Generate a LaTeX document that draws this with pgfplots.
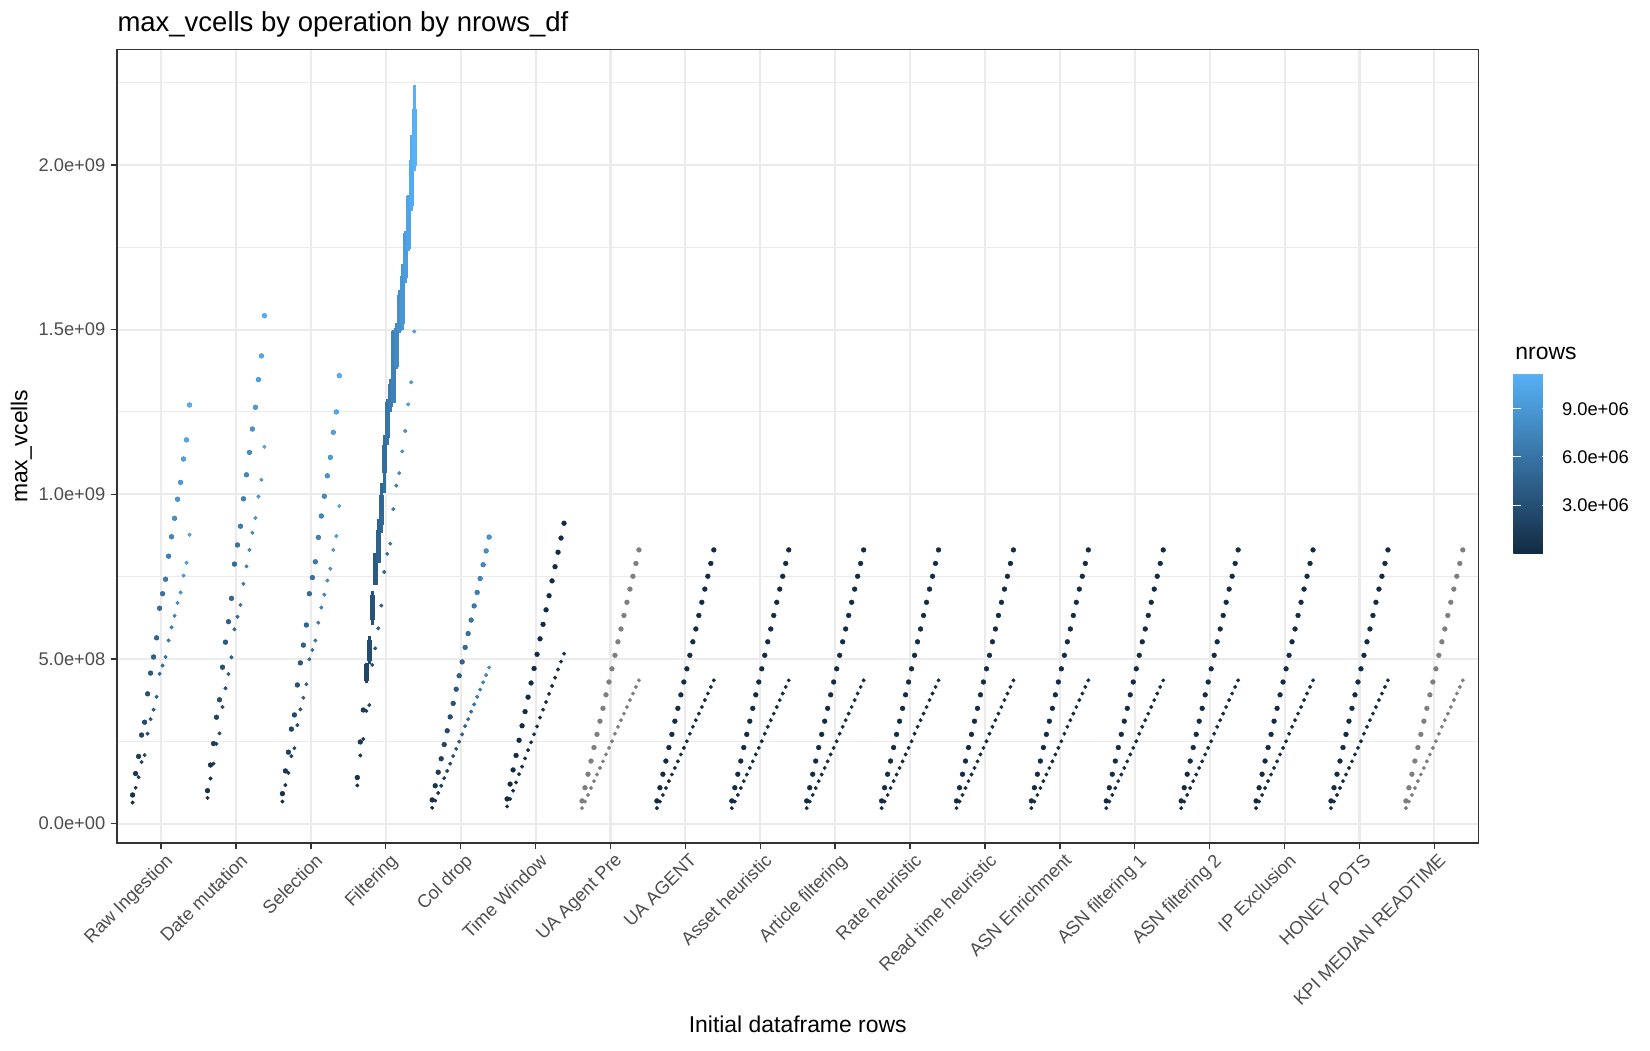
\documentclass[border=0pt]{standalone}
\usepackage{fontspec}
\setmainfont{Liberation Sans}
\usepackage{pgfplots}
\usepackage{pgfplotstable}
\pgfplotsset{compat=1.18}
\definecolor{glow}{RGB}{19,43,67}
\definecolor{ghigh}{RGB}{86,177,247}
\definecolor{gridc}{RGB}{235,235,235}
\definecolor{g20}{RGB}{51,51,51}
\definecolor{g30}{RGB}{77,77,77}
\definecolor{gna}{RGB}{127,127,127}

% values in units of 1e9; n = nrows in millions
\pgfplotstableread{
off n ra rb da db sa sb fb ca cb ta tb ua ub
-0.38 0.558 0.087 0.064 0.100 0.078 0.091 0.067 0.116 0.072 0.048 0.075 0.052 0.069 0.047
-0.34 1.116 0.152 0.109 0.178 0.137 0.160 0.117 0.207 0.115 0.070 0.120 0.075 0.109 0.067
-0.30 1.674 0.204 0.141 0.243 0.182 0.217 0.154 0.257 0.156 0.093 0.163 0.100 0.150 0.087
-0.26 2.232 0.269 0.187 0.323 0.242 0.287 0.205 0.342 0.197 0.115 0.207 0.125 0.190 0.108
-0.22 2.790 0.308 0.208 0.376 0.274 0.330 0.229 0.360 0.240 0.138 0.253 0.150 0.231 0.129
-0.18 3.348 0.394 0.273 0.475 0.354 0.421 0.299 0.482 0.282 0.160 0.297 0.173 0.271 0.149
-0.14 3.906 0.457 0.317 0.551 0.411 0.488 0.347 0.532 0.324 0.182 0.340 0.198 0.311 0.169
-0.10 4.464 0.506 0.346 0.613 0.454 0.542 0.382 0.593 0.365 0.205 0.384 0.223 0.350 0.189
-0.06 5.022 0.564 0.385 0.684 0.505 0.603 0.423 0.662 0.408 0.227 0.427 0.247 0.391 0.210
-0.02 5.580 0.654 0.455 0.788 0.590 0.698 0.499 0.764 0.449 0.249 0.471 0.271 0.430 0.230
0.02 6.138 0.698 0.480 0.846 0.628 0.747 0.527 0.819 0.491 0.271 0.514 0.295 0.470 0.250
0.06 6.696 0.742 0.506 0.903 0.664 0.795 0.556 0.850 0.535 0.296 0.561 0.322 0.511 0.273
0.10 7.254 0.812 0.556 0.986 0.728 0.869 0.610 0.955 0.577 0.317 0.605 0.346 0.552 0.294
0.14 7.812 0.871 0.596 1.059 0.781 0.934 0.656 1.026 0.618 0.340 0.649 0.369 0.591 0.314
0.18 8.370 0.927 0.631 1.127 0.831 0.994 0.695 1.064 0.661 0.362 0.692 0.394 0.632 0.334
0.22 8.928 0.985 0.670 1.198 0.883 1.056 0.738 1.130 0.702 0.385 0.737 0.418 0.672 0.354
0.26 9.486 1.036 0.702 1.264 0.928 1.112 0.774 1.192 0.744 0.407 0.780 0.443 0.712 0.375
0.30 10.044 1.107 0.753 1.348 0.993 1.188 0.831 1.273 0.786 0.429 0.824 0.468 0.751 0.395
0.34 10.602 1.165 0.792 1.420 1.044 1.250 0.873 1.340 0.828 0.451 0.867 0.492 0.790 0.415
0.38 11.160 1.271 0.877 1.542 1.144 1.360 0.964 1.494 0.870 0.474 0.912 0.516 0.831 0.435
}\ops

% Filtering box: #1 left x, #2 centre x, #3 right x, #4 lower whisker, #5 lower quartile,
% #6 median, #7 upper quartile, #8 upper whisker, #9 colour mix percentage
\newcommand{\filtbox}[9]{%
\addplot[draw=ghigh!#9!glow, fill=white, line width=1.3pt] coordinates {(#1,#5) (#3,#5) (#3,#7) (#1,#7)} --cycle;
\addplot[draw=ghigh!#9!glow, line width=1.3pt, unbounded coords=jump] coordinates {(#2,#4) (#2,#5) (#2,nan) (#2,#7) (#2,#8) (#2,nan) (#1,#6) (#3,#6)};}

\pgfplotsset{
  big/.style={only marks, mark=*, mark size=1.15pt, mark options={line width=0.2pt}},
  small/.style={only marks, mark=*, mark size=0.85pt, mark options={line width=0.2pt}},
}

\begin{document}
\begin{tikzpicture}
\useasboundingbox (0,0) rectangle (792pt,504pt);
\begin{axis}[
  at={(56.1pt,99.4pt)}, anchor=south west,
  scale only axis, width=653.6pt, height=380.8pt,
  xmin=0.41, xmax=18.59, ymin=-0.0586, ymax=2.350,
  xtick={1,...,18},
  xticklabels={Raw Ingestion,Date mutation,Selection,Filtering,Col drop,Time Window,UA Agent Pre,UA AGENT,Asset heuristic,Article filtering,Rate heuristic,Read time heuristic,ASN Enrichment,ASN filtering 1,ASN filtering 2,IP Exclusion,HONEY POTS,KPI MEDIAN READTIME},
  ytick={0,0.5,1,1.5,2},
  yticklabels={0.0e+00,5.0e+08,1.0e+09,1.5e+09,2.0e+09},
  minor ytick={0.25,0.75,1.25,1.75,2.25},
  xmajorgrids, ymajorgrids, yminorgrids,
  major grid style={gridc, line width=1pt},
  minor grid style={gridc, line width=0.5pt},
  axis line style={g20, line width=0.7pt},
  major tick style={g20, line width=0.7pt},
  minor tick length=0pt,
  major tick length=2.75pt, tick align=outside, tick pos=left,
  ticklabel style={font=\fontsize{8.8}{10}\selectfont, text=g30},
  xticklabel style={rotate=45, anchor=north east, inner sep=0pt, yshift=-2.2pt},
  yticklabel style={anchor=east, inner sep=0pt, xshift=-2.6pt},
  colormap={gg}{rgb255(0cm)=(19,43,67); rgb255(1cm)=(86,177,247)},
  point meta min=0, point meta max=11.16,
  colorbar,
  colorbar style={
    at={(1.0255,0.365)}, anchor=south west,
    scale only axis, width=17.5pt, height=86.1pt,
    ytick={3,6,9}, yticklabels={3.0e+06,6.0e+06,9.0e+06},
    yticklabel pos=right, ytick pos=both,
    tick align=inside, major tick length=3.5pt,
    ytick style={draw=white, line width=0.5pt},
    axis line style={draw=none},
    axis on top,
    yticklabel style={font=\fontsize{8.8}{10}\selectfont, text=black, anchor=west, inner sep=0pt, xshift=5.7pt},
  },
]
% Raw Ingestion
\addplot[big, scatter, scatter src=explicit] table[x expr=\thisrow{off}+1, y=ra, meta=n]{\ops};
\addplot[small, scatter, scatter src=explicit] table[x expr=\thisrow{off}+1, y=rb, meta=n]{\ops};
% Date mutation
\addplot[big, scatter, scatter src=explicit] table[x expr=\thisrow{off}+2, y=da, meta=n]{\ops};
\addplot[small, scatter, scatter src=explicit] table[x expr=\thisrow{off}+2, y=db, meta=n]{\ops};
% Selection
\addplot[big, scatter, scatter src=explicit] table[x expr=\thisrow{off}+3, y=sa, meta=n]{\ops};
\addplot[small, scatter, scatter src=explicit] table[x expr=\thisrow{off}+3, y=sb, meta=n]{\ops};
% Filtering
\addplot[small, scatter, scatter src=explicit] table[x expr=\thisrow{off}+4, y=fb, meta=n]{\ops};
\addplot[big, scatter, scatter src=explicit] coordinates {(3.62,0.140) [0.558] (3.66,0.248) [1.116] (3.70,0.345) [1.674]};
\filtbox{3.722}{3.74}{3.758}{0.426}{0.436}{0.458}{0.479}{0.487}{20}
\filtbox{3.762}{3.78}{3.798}{0.484}{0.497}{0.525}{0.553}{0.570}{25}
\filtbox{3.802}{3.82}{3.838}{0.603}{0.623}{0.655}{0.689}{0.706}{30}
\filtbox{3.842}{3.86}{3.878}{0.727}{0.730}{0.775}{0.819}{0.823}{35}
\filtbox{3.882}{3.90}{3.918}{0.792}{0.795}{0.840}{0.887}{0.924}{40}
\filtbox{3.922}{3.94}{3.958}{0.882}{0.912}{0.950}{0.993}{1.033}{45}
\filtbox{3.962}{3.98}{3.998}{1.003}{1.069}{1.105}{1.145}{1.180}{50}
\filtbox{4.002}{4.02}{4.038}{1.150}{1.175}{1.220}{1.276}{1.290}{55}
\filtbox{4.042}{4.06}{4.078}{1.250}{1.270}{1.300}{1.330}{1.350}{60}
\filtbox{4.082}{4.10}{4.118}{1.276}{1.280}{1.380}{1.490}{1.500}{65}
\filtbox{4.122}{4.14}{4.158}{1.380}{1.390}{1.450}{1.500}{1.520}{70}
\filtbox{4.162}{4.18}{4.198}{1.490}{1.500}{1.550}{1.600}{1.620}{75}
\filtbox{4.202}{4.22}{4.238}{1.500}{1.520}{1.600}{1.660}{1.700}{80}
\filtbox{4.242}{4.26}{4.278}{1.640}{1.660}{1.720}{1.790}{1.800}{85}
\filtbox{4.282}{4.30}{4.318}{1.740}{1.750}{1.820}{1.900}{1.910}{90}
\filtbox{4.322}{4.34}{4.358}{1.860}{1.880}{1.950}{2.010}{2.090}{95}
\filtbox{4.362}{4.38}{4.398}{1.980}{2.000}{2.080}{2.167}{2.243}{100}
% Col drop
\addplot[big, scatter, scatter src=explicit] table[x expr=\thisrow{off}+5, y=ca, meta expr=\thisrow{n}*0.8]{\ops};
\addplot[small, scatter, scatter src=explicit] table[x expr=\thisrow{off}+5, y=cb, meta expr=\thisrow{n}*0.8]{\ops};
% Time Window
\addplot[big, glow] table[x expr=\thisrow{off}+6, y=ta]{\ops};
\addplot[small, glow] table[x expr=\thisrow{off}+6, y=tb]{\ops};
% UA Agent Pre (NA colour)
\addplot[big, gna] table[x expr=\thisrow{off}+7, y=ua]{\ops};
\addplot[small, gna] table[x expr=\thisrow{off}+7, y=ub]{\ops};
% UA AGENT ... HONEY POTS
\pgfplotsinvokeforeach{8,...,17}{
\addplot[big, glow] table[x expr=\thisrow{off}+#1, y=ua]{\ops};
\addplot[small, glow] table[x expr=\thisrow{off}+#1, y=ub]{\ops};
}
% KPI MEDIAN READTIME (NA colour)
\addplot[big, gna] table[x expr=\thisrow{off}+18, y=ua]{\ops};
\addplot[small, gna] table[x expr=\thisrow{off}+18, y=ub]{\ops};
\end{axis}
\node[anchor=base west, inner sep=0pt, font=\fontsize{13.2}{15}\selectfont] at (56.2pt,488.7pt) {max\_vcells by operation by nrows\_df};
\node[anchor=base, inner sep=0pt, font=\fontsize{11}{13}\selectfont] at (382.9pt,8.5pt) {Initial dataframe rows};
\node[rotate=90, anchor=center, inner sep=0pt, font=\fontsize{11}{13}\selectfont] at (10.3pt,289.8pt) {max\_vcells};
\node[anchor=base west, inner sep=0pt, font=\fontsize{11}{13}\selectfont] at (727.2pt,331.5pt) {nrows};
\end{tikzpicture}
\end{document}
